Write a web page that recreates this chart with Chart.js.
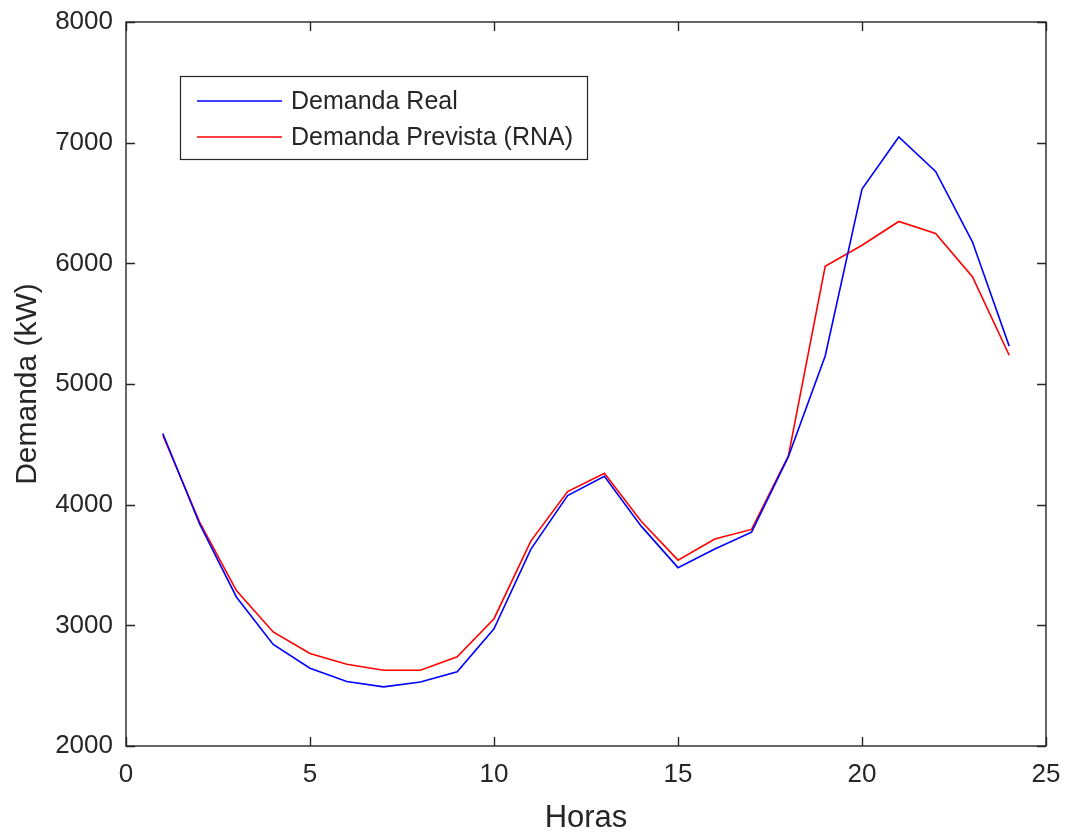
<!DOCTYPE html>
<html>
<head>
<meta charset="utf-8">
<script src="https://cdn.jsdelivr.net/npm/chart.js@4"></script>
<style>
  html, body { margin: 0; padding: 0; background: #fff; }
  #wrap { width: 1066px; height: 833px; }
</style>
</head>
<body>
<div id="wrap"><canvas id="demandChart" width="1066" height="833"></canvas></div>
<script>
// Hours of the day
const horas = [1, 2, 3, 4, 5, 6, 7, 8, 9, 10, 11, 12, 13, 14, 15, 16, 17, 18, 19, 20, 21, 22, 23, 24];

// Real demand (kW)
const demandaReal = [4590, 3840, 3235, 2842, 2645, 2535, 2490, 2530, 2615, 2972, 3630, 4075, 4235, 3822, 3478, 3632, 3772, 4398, 5232, 6615, 7047, 6762, 6178, 5314];

// Forecast demand from the neural net (kW)
const demandaPrevista = [4575, 3855, 3288, 2945, 2767, 2677, 2628, 2628, 2740, 3055, 3698, 4108, 4260, 3863, 3540, 3716, 3795, 4405, 5975, 6150, 6347, 6247, 5890, 5238];

const xTicks = [0, 5, 10, 15, 20, 25];
const yTicks = [2000, 3000, 4000, 5000, 6000, 7000, 8000];

const axisColor = '#262626';
const fontFamily = '"Liberation Sans", Arial, sans-serif';

// Draws the matlab style box, inward ticks and the legend
const matlabBox = {
    id: 'matlabBox',
    afterDraw(chart) {
        const ctx = chart.ctx;
        const area = chart.chartArea;
        const xs = chart.scales.x;
        const ys = chart.scales.y;
        const tickLen = 9;

        ctx.save();
        ctx.strokeStyle = axisColor;
        ctx.lineWidth = 1.4;

        // ticks along x (bottom and top)
        xTicks.forEach(v => {
            const px = Math.round(xs.getPixelForValue(v)) + 0.5;
            ctx.beginPath();
            ctx.moveTo(px, area.bottom);
            ctx.lineTo(px, area.bottom - tickLen);
            ctx.moveTo(px, area.top);
            ctx.lineTo(px, area.top + tickLen);
            ctx.stroke();
        });
        // ticks along y (left and right)
        yTicks.forEach(v => {
            const py = Math.round(ys.getPixelForValue(v)) + 0.5;
            ctx.beginPath();
            ctx.moveTo(area.left, py);
            ctx.lineTo(area.left + tickLen, py);
            ctx.moveTo(area.right, py);
            ctx.lineTo(area.right - tickLen, py);
            ctx.stroke();
        });

        ctx.strokeRect(area.left, area.top, area.right - area.left, area.bottom - area.top);

        // legend box
        const boxX = area.left + 54;
        const boxY = area.top + 54;
        const boxW = 407;
        const boxH = 83;
        ctx.fillStyle = '#fff';
        ctx.fillRect(boxX, boxY, boxW, boxH);
        ctx.lineWidth = 1.2;
        ctx.strokeRect(boxX + 0.5, boxY + 0.5, boxW, boxH);

        ctx.font = '25px ' + fontFamily;
        ctx.textBaseline = 'middle';
        chart.data.datasets.forEach((ds, i) => {
            const rowY = boxY + 25 + i * 36;
            ctx.strokeStyle = ds.borderColor;
            ctx.lineWidth = 1.6;
            ctx.beginPath();
            ctx.moveTo(boxX + 17, rowY);
            ctx.lineTo(boxX + 102, rowY);
            ctx.stroke();
            ctx.fillStyle = axisColor;
            ctx.fillText(ds.label, boxX + 111, rowY + 1);
        });
        ctx.restore();
    }
};

// keep the plot box where the reference has it
function noScalePadding(axis) {
    axis.paddingTop = 0;
    axis.paddingBottom = 0;
    axis.paddingLeft = 0;
    axis.paddingRight = 0;
}

const ctx = document.getElementById('demandChart').getContext('2d');
const demandChart = new Chart(ctx, {
    type: 'line',
    data: {
        datasets: [{
            label: 'Demanda Real',
            data: horas.map((h, i) => ({ x: h, y: demandaReal[i] })),
            borderColor: '#0000ff',
            borderWidth: 1.6,
            pointRadius: 0,
            fill: false,
            tension: 0
        }, {
            label: 'Demanda Prevista (RNA)',
            data: horas.map((h, i) => ({ x: h, y: demandaPrevista[i] })),
            borderColor: '#ff0000',
            borderWidth: 1.6,
            pointRadius: 0,
            fill: false,
            tension: 0
        }]
    },
    options: {
        responsive: false,
        animation: false,
        layout: {
            padding: { left: 0, right: 20, top: 22, bottom: 0 }
        },
        plugins: {
            legend: { display: false },
            tooltip: { enabled: false }
        },
        scales: {
            x: {
                type: 'linear',
                min: 0,
                max: 25,
                afterBuildTicks: axis => { axis.ticks = xTicks.map(v => ({ value: v })); },
                afterFit: axis => { axis.height = 87; noScalePadding(axis); },
                grid: { display: false, drawTicks: false },
                border: { display: false },
                ticks: {
                    padding: 13,
                    color: axisColor,
                    font: { family: fontFamily, size: 26 },
                    maxRotation: 0,
                    callback: v => String(v)
                },
                title: {
                    display: true,
                    text: 'Horas',
                    color: axisColor,
                    font: { family: fontFamily, size: 31, lineHeight: 0.95 },
                    padding: { top: 0, bottom: 0 }
                }
            },
            y: {
                type: 'linear',
                min: 2000,
                max: 8000,
                afterBuildTicks: axis => { axis.ticks = yTicks.map(v => ({ value: v })); },
                afterFit: axis => { axis.width = 126; noScalePadding(axis); },
                grid: { display: false, drawTicks: false },
                border: { display: false },
                ticks: {
                    padding: 13,
                    color: axisColor,
                    font: { family: fontFamily, size: 26 },
                    callback: v => String(v)
                },
                title: {
                    display: true,
                    text: 'Demanda (kW)',
                    color: axisColor,
                    font: { family: fontFamily, size: 30 },
                    padding: { top: 10, bottom: 0 }
                }
            }
        }
    },
    plugins: [matlabBox]
});
</script>
</body>
</html>
